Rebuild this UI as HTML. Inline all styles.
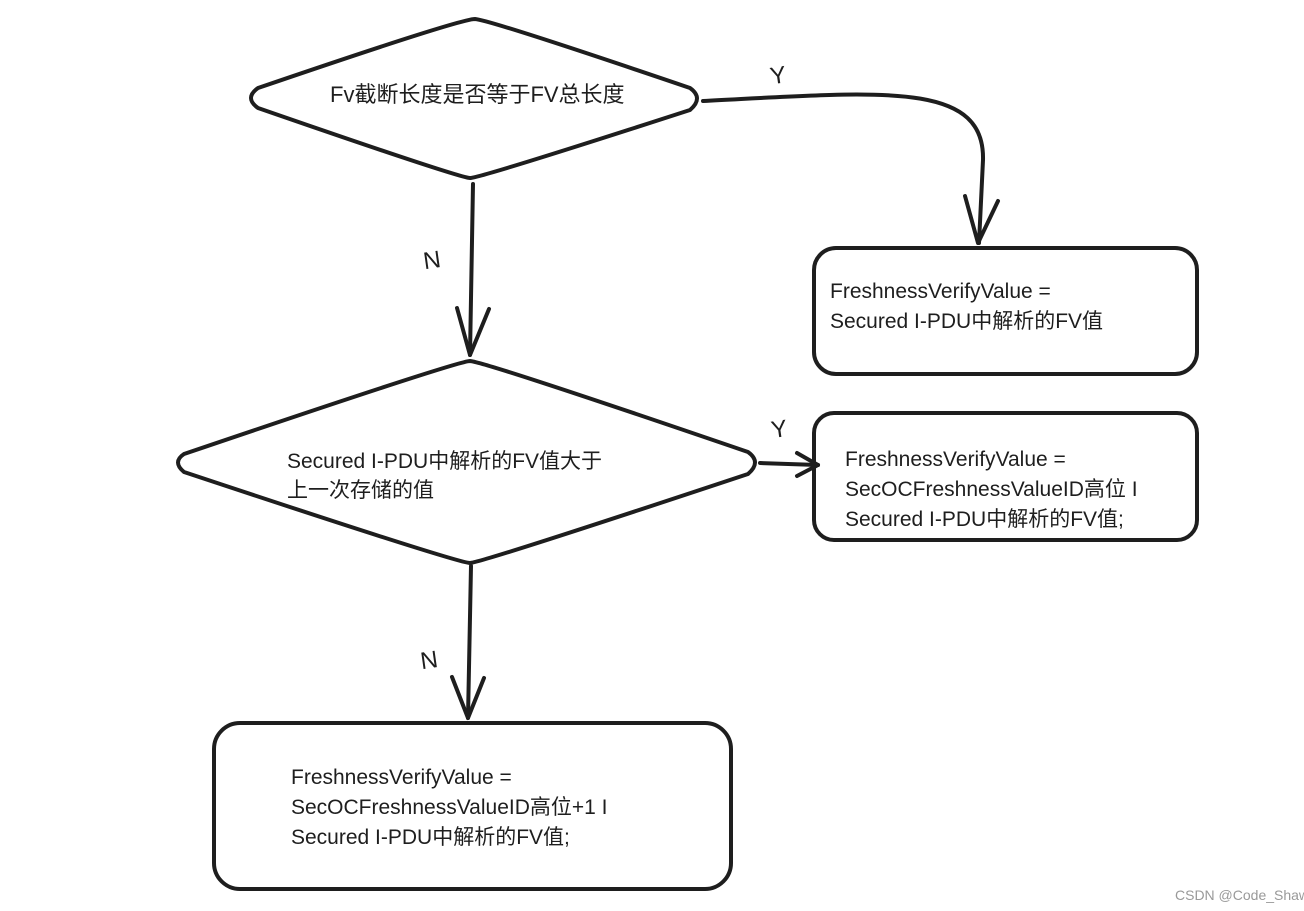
<!DOCTYPE html>
<html><head><meta charset="utf-8"><style>
html,body{margin:0;padding:0;background:#fff;}
svg{display:block;}
text{font-family:"Liberation Sans","Noto Sans CJK SC",sans-serif;fill:#1e1e1e;}
.s{fill:none;stroke:#1e1e1e;stroke-width:4;stroke-linecap:round;stroke-linejoin:round;}
</style></head><body>
<svg width="1304" height="911" viewBox="0 0 1304 911" xmlns="http://www.w3.org/2000/svg">
<!-- diamond 1 -->
<path class="s" d="M475,19 Q490,20 690,88 Q704,98 690,110 Q480,178 470,178 Q460,178 258,108 Q244,98 258,88 Q460,19 475,19 Z"/>
<text x="330" y="102" font-size="22">Fv截断长度是否等于FV总长度</text>
<!-- Y arrow top -->
<path class="s" d="M703,101 C880,92 985,80 983,160 L979,243"/>
<path class="s" d="M965,196 L978,243 L998,201"/>
<text x="770" y="83" font-size="24" transform="rotate(-8 780 75)">Y</text>
<!-- box 1 -->
<rect class="s" x="814" y="248" width="383" height="126" rx="22"/>
<text x="830" y="298" font-size="21">FreshnessVerifyValue =</text>
<text x="830" y="328" font-size="21">Secured I-PDU中解析的FV值</text>
<!-- N arrow 1 -->
<path class="s" d="M473,184 L470,355"/>
<path class="s" d="M457,308 L470,355 L489,309"/>
<text x="423" y="268" font-size="24" transform="rotate(-8 433 258)">N</text>
<!-- diamond 2 -->
<path class="s" d="M470,361 Q485,362 748,452 Q762,462 748,474 Q480,563 470,563 Q458,563 184,472 Q172,462 184,454 Q458,361 470,361 Z"/>
<text x="287" y="468" font-size="21">Secured I-PDU中解析的FV值大于</text>
<text x="287" y="497" font-size="21">上一次存储的值</text>
<!-- Y arrow 2 -->
<path class="s" d="M760,463 L818,465"/>
<path class="s" d="M797,453 L818,465 L797,476"/>
<text x="771" y="437" font-size="24" transform="rotate(-8 780 428)">Y</text>
<!-- box 2 -->
<rect class="s" x="814" y="413" width="383" height="127" rx="20"/>
<text x="845" y="466" font-size="21">FreshnessVerifyValue =</text>
<text x="845" y="496" font-size="21">SecOCFreshnessValueID高位 I</text>
<text x="845" y="526" font-size="21">Secured I-PDU中解析的FV值;</text>
<!-- N arrow 2 -->
<path class="s" d="M471,566 L468,718"/>
<path class="s" d="M452,677 L468,718 L484,678"/>
<text x="420" y="668" font-size="24" transform="rotate(-8 430 657)">N</text>
<!-- box 3 -->
<rect class="s" x="214" y="723" width="517" height="166" rx="26"/>
<text x="291" y="784" font-size="21">FreshnessVerifyValue =</text>
<text x="291" y="814" font-size="21">SecOCFreshnessValueID高位+1 I</text>
<text x="291" y="844" font-size="21">Secured I-PDU中解析的FV值;</text>
<text x="1175" y="900" font-size="14" style="fill:#999">CSDN @Code_Shawn</text>
</svg>
</body></html>
